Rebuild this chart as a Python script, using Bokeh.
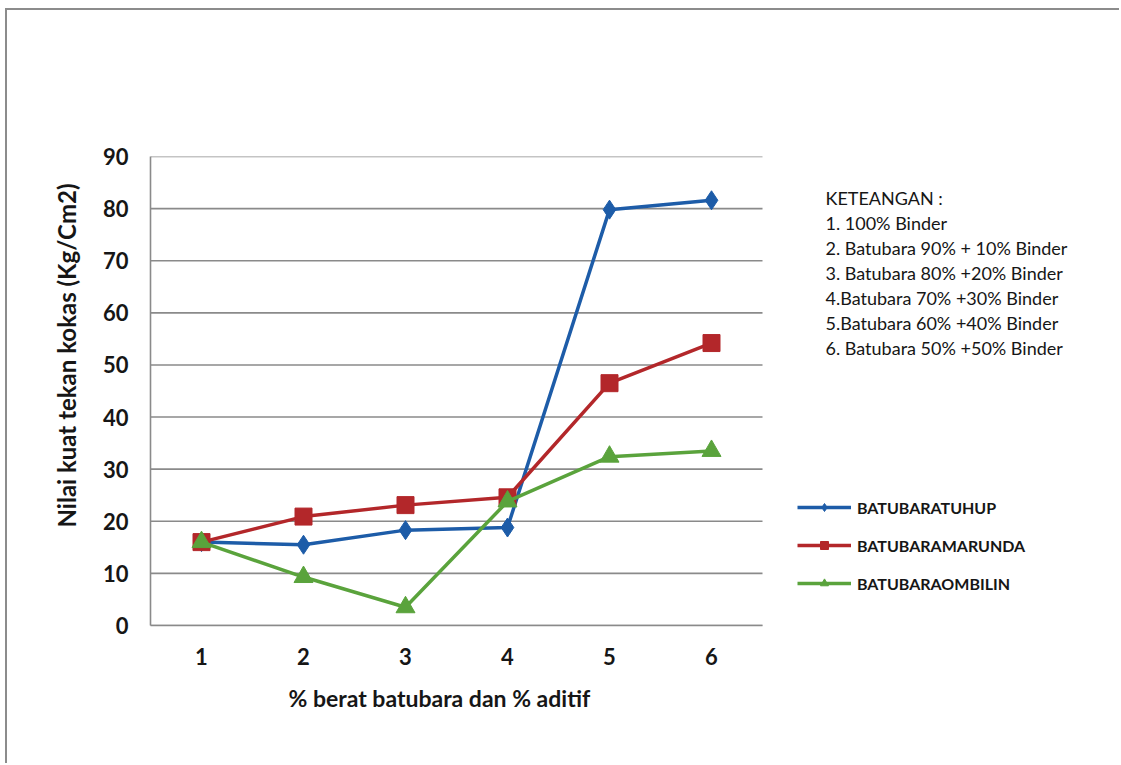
from bokeh.plotting import figure
from bokeh.models import FixedTicker, Label, Legend, LegendItem, Range1d, Title
from bokeh.embed import file_html
from bokeh.resources import INLINE

# ---- data ----
x_vals = [1, 2, 3, 4, 5, 6]
tuhup = [16.0, 15.5, 18.3, 18.8, 79.8, 81.6]
marunda = [16.0, 20.9, 23.1, 24.6, 46.5, 54.2]
ombilin = [16.0, 9.3, 3.5, 23.8, 32.4, 33.5]
series_names = ["BATUBARATUHUP", "BATUBARAMARUNDA", "BATUBARAOMBILIN"]
notes = [
    "KETEANGAN  :",
    "1. 100% Binder",
    "2. Batubara  90% + 10% Binder",
    "3. Batubara  80% +20% Binder",
    "4.Batubara 70% +30% Binder",
    "5.Batubara 60% +40% Binder",
    "6. Batubara  50% +50% Binder",
]
y_ticks = [0, 10, 20, 30, 40, 50, 60, 70, 80, 90]
y_title = "Nilai kuat tekan kokas (Kg/Cm2)"
x_title = "% berat batubara dan % aditif"

FONT = "Lato"
COL_BLUE = "#1d5ca8"
COL_RED = "#b3272a"
COL_GREEN = "#5aa33c"
GRID = "#8a8a8a"
TXT = "#161616"

# layout constants (pixels)
W, H = 1114, 755
LEFT, TOP, BOTTOM = 143, 146, 140
X0, X1, Y0, Y1 = 0.5, 6.5, 0, 90
PLOT_W, PLOT_H = 612, 469
ppx = PLOT_W / (X1 - X0)
ppy = PLOT_H / (Y1 - Y0)
frame_w = W - LEFT
x_end = X0 + frame_w / ppx

p = figure(
    width=W, height=H,
    x_range=Range1d(X0, x_end), y_range=Range1d(Y0, Y1),
    output_backend="svg", toolbar_location=None,
    min_border_left=LEFT, min_border_right=0,
    min_border_top=TOP, min_border_bottom=BOTTOM,
)
p.styles = {
    "margin-left": "7px", "margin-top": "10px",
    "box-shadow": "-2px -2px 0px 0px #8c8c8c",
}
p.background_fill_color = "white"
p.border_fill_color = "white"
p.outline_line_color = None

# axes
p.xaxis.ticker = FixedTicker(ticks=x_vals)
p.yaxis.ticker = FixedTicker(ticks=y_ticks)
p.xaxis.bounds = (X0, X1)
p.yaxis.bounds = (Y0, Y1)
for ax in (p.xaxis[0], p.yaxis[0]):
    ax.axis_line_color = GRID
    ax.axis_line_width = 1.6
    ax.major_tick_line_color = None
    ax.minor_tick_line_color = None
    ax.major_tick_out = 0
    ax.major_tick_in = 0
    ax.major_label_text_font = FONT
    ax.major_label_text_font_style = "bold"
    ax.major_label_text_font_size = "22px"
    ax.major_label_text_color = TXT
    ax.major_label_standoff = 22
p.xgrid.grid_line_color = None
p.ygrid.grid_line_color = None

# horizontal gridlines limited to the plot part
p.segment(x0=X0, x1=X1, y0=y_ticks, y1=y_ticks, line_color=GRID, line_width=1.6)

# series
r1l = p.line(x_vals, tuhup, line_color=COL_BLUE, line_width=3.5)
r1m = p.scatter(x_vals, tuhup, marker="diamond", size=19, fill_color=COL_BLUE, line_color=COL_BLUE)
r2l = p.line(x_vals, marunda, line_color=COL_RED, line_width=3.5)
r2m = p.scatter(x_vals, marunda, marker="square", size=17, fill_color=COL_RED, line_color=COL_RED)
r3l = p.line(x_vals, ombilin, line_color=COL_GREEN, line_width=3.5)
r3m = p.scatter(x_vals, ombilin, marker="triangle", size=19, fill_color=COL_GREEN, line_color=COL_GREEN)

legend = Legend(
    items=[
        LegendItem(label=series_names[0], renderers=[r1l, r1m]),
        LegendItem(label=series_names[1], renderers=[r2l, r2m]),
        LegendItem(label=series_names[2], renderers=[r3l, r3m]),
    ],
    location=(797 - 150, 625 - 593),
    orientation="vertical",
    border_line_color=None,
    background_fill_alpha=0,
    padding=0, margin=0, spacing=18,
    glyph_width=54, glyph_height=20, label_height=20,
    label_standoff=6,
    label_text_font=FONT, label_text_font_style="bold",
    label_text_font_size="16px", label_text_color=TXT,
)
p.add_layout(legend, "center")

# notes block (right of plot)
note_x = X1 + (825 - 762) / ppx
for i, t in enumerate(notes):
    ypix = 197 + 25 * i
    p.add_layout(Label(
        x=note_x, y=(625 - ypix) / ppy, text=t,
        text_font=FONT, text_font_size="18px", text_color=TXT,
        text_baseline="middle", text_align="left",
    ))

# axis titles
p.add_layout(Title(
    text=y_title, align="left", offset=625 - 527, standoff=37,
    text_font=FONT, text_font_style="bold", text_font_size="24px",
    text_color=TXT,
), "left")
p.add_layout(Title(
    text=x_title, align="left", offset=288 - 150, standoff=28,
    text_font=FONT, text_font_style="bold", text_font_size="23px",
    text_color=TXT,
), "below")

open("out.html", "w").write(file_html(p, INLINE))
